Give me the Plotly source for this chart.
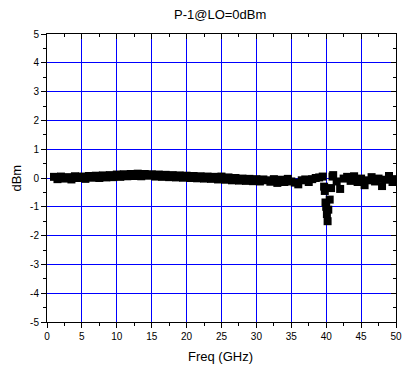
import plotly.graph_objects as go

freq_ghz = [1.0, 1.5, 2.0, 2.5, 3.0, 3.5, 4.0, 4.5, 5.0, 5.5, 6.0, 6.5, 7.0, 7.5, 8.0, 8.5,
            9.0, 9.5, 10.0, 10.5, 11.0, 11.5, 12.0, 12.5, 13.0, 13.5, 14.0, 14.5, 15.0, 15.5,
            16.0, 16.5, 17.0, 17.5, 18.0, 18.5, 19.0, 19.5, 20.0, 20.5, 21.0, 21.5, 22.0, 22.5,
            23.0, 23.5, 24.0, 24.5, 25.0, 25.5, 26.0, 26.5, 27.0, 27.5, 28.0, 28.5, 29.0, 29.5,
            30.0, 30.5, 31.0, 31.5, 32.0, 32.5, 33.0, 33.5, 34.0, 34.5, 35.0, 35.5, 36.0, 36.5,
            37.0, 37.5, 38.0, 38.5, 39.0, 39.5,
            39.7, 39.8, 39.9, 40.0, 40.1, 40.2, 40.3, 40.5, 40.7, 40.9,
            41.0, 41.5, 42.0, 42.5, 43.0, 43.5, 44.0, 44.5, 45.0, 45.5, 46.0, 46.5, 47.0, 47.5,
            48.0, 48.5, 49.0, 49.5, 50.0]

p1_dbm = [0.04, -0.04, 0.05, -0.02, 0.03, -0.05, 0.06, 0.00, 0.05, -0.03, 0.07, 0.01, 0.08, 0.00, 0.09, 0.02,
          0.10, 0.03, 0.12, 0.04, 0.13, 0.06, 0.14, 0.07, 0.15, 0.06, 0.14, 0.08, 0.13, 0.05,
          0.12, 0.04, 0.11, 0.03, 0.10, 0.02, 0.09, 0.01, 0.08, 0.00, 0.07, -0.01, 0.06, -0.02,
          0.05, -0.03, 0.04, -0.05, 0.05, -0.06, 0.02, -0.08, 0.00, -0.09, -0.02, -0.10, -0.03, -0.11,
          -0.04, -0.12, -0.05, -0.08, -0.13, -0.04, -0.17, -0.06, -0.14, -0.03, -0.12, -0.16, -0.22, -0.08,
          -0.05, -0.14, -0.04, 0.00, 0.02, 0.05,
          -0.30, -0.45, -0.85, -1.00, -1.25, -1.50, -1.10, -0.75, -0.35, 0.05,
          0.10, -0.12, -0.38, -0.02, 0.04, -0.10, 0.06, -0.14, -0.02, -0.25, -0.08, 0.03, -0.12, -0.02,
          -0.28, -0.06, 0.07, -0.14, -0.04]

x_ticks = [0, 5, 10, 15, 20, 25, 30, 35, 40, 45, 50]
y_ticks = [-5, -4, -3, -2, -1, 0, 1, 2, 3, 4, 5]

FONT = "Liberation Sans, Arial, sans-serif"

fig = go.Figure()
fig.add_trace(go.Scatter(
    x=freq_ghz, y=p1_dbm, mode="markers",
    marker=dict(symbol="square", size=8, color="black", line=dict(width=0)),
    showlegend=False, hoverinfo="skip"))
# dummy trace for mirrored top/right axes
fig.add_trace(go.Scatter(x=[None], y=[None], xaxis="x2", yaxis="y2", showlegend=False,
                         hoverinfo="skip"))

common = dict(showline=True, linecolor="black", linewidth=1, zeroline=False)

fig.update_layout(
    width=406, height=367,
    margin=dict(l=47, r=4, t=34, b=45),
    paper_bgcolor="white", plot_bgcolor="white",
    hovermode=False,
    font=dict(family=FONT, size=10, color="black"),
    xaxis=dict(range=[0, 50], tickvals=x_ticks, ticktext=[str(v) for v in x_ticks],
               ticks="outside", ticklen=5, tickcolor="black", ticklabeloverflow="allow",
               minor=dict(dtick=2.5, ticks="outside", ticklen=3, tickcolor="black", showgrid=False),
               showgrid=True, gridcolor="#0000FF", gridwidth=1, **common),
    yaxis=dict(range=[-5, 5], tickvals=y_ticks, ticktext=[str(v) for v in y_ticks],
               ticks="outside", ticklen=5, tickcolor="black", ticklabeloverflow="allow",
               minor=dict(dtick=0.5, ticks="outside", ticklen=3, tickcolor="black", showgrid=False),
               showgrid=True, gridcolor="#0000FF", gridwidth=1, **common),
    xaxis2=dict(range=[0, 50], overlaying="x", side="top", anchor="y", tickvals=x_ticks,
                showticklabels=False, ticks="inside", ticklen=5, tickcolor="black",
                minor=dict(dtick=2.5, ticks="inside", ticklen=3, tickcolor="black"),
                showgrid=False, **common),
    yaxis2=dict(range=[-5, 5], overlaying="y", side="right", anchor="x", tickvals=y_ticks,
                showticklabels=False, ticks="inside", ticklen=5, tickcolor="black",
                minor=dict(dtick=0.5, ticks="inside", ticklen=3, tickcolor="black"),
                showgrid=False, **common),
    annotations=[
        dict(text="P-1@LO=0dBm", xref="paper", yref="paper", x=0.496, y=1.066,
             xanchor="center", yanchor="middle", showarrow=False, font=dict(size=13)),
        dict(text="Freq (GHz)", xref="paper", yref="paper", x=0.498, y=-0.1215,
             xanchor="center", yanchor="middle", showarrow=False, font=dict(size=13)),
        dict(text="dBm", xref="paper", yref="paper", x=-0.090, y=0.5, textangle=-90,
             xanchor="center", yanchor="middle", showarrow=False, font=dict(size=13)),
    ],
)

fig.write_html(
    "out.html",
    config={"displayModeBar": False, "staticPlot": True},
    post_script="document.body.style.margin='0';document.body.style.overflow='hidden';",
)
